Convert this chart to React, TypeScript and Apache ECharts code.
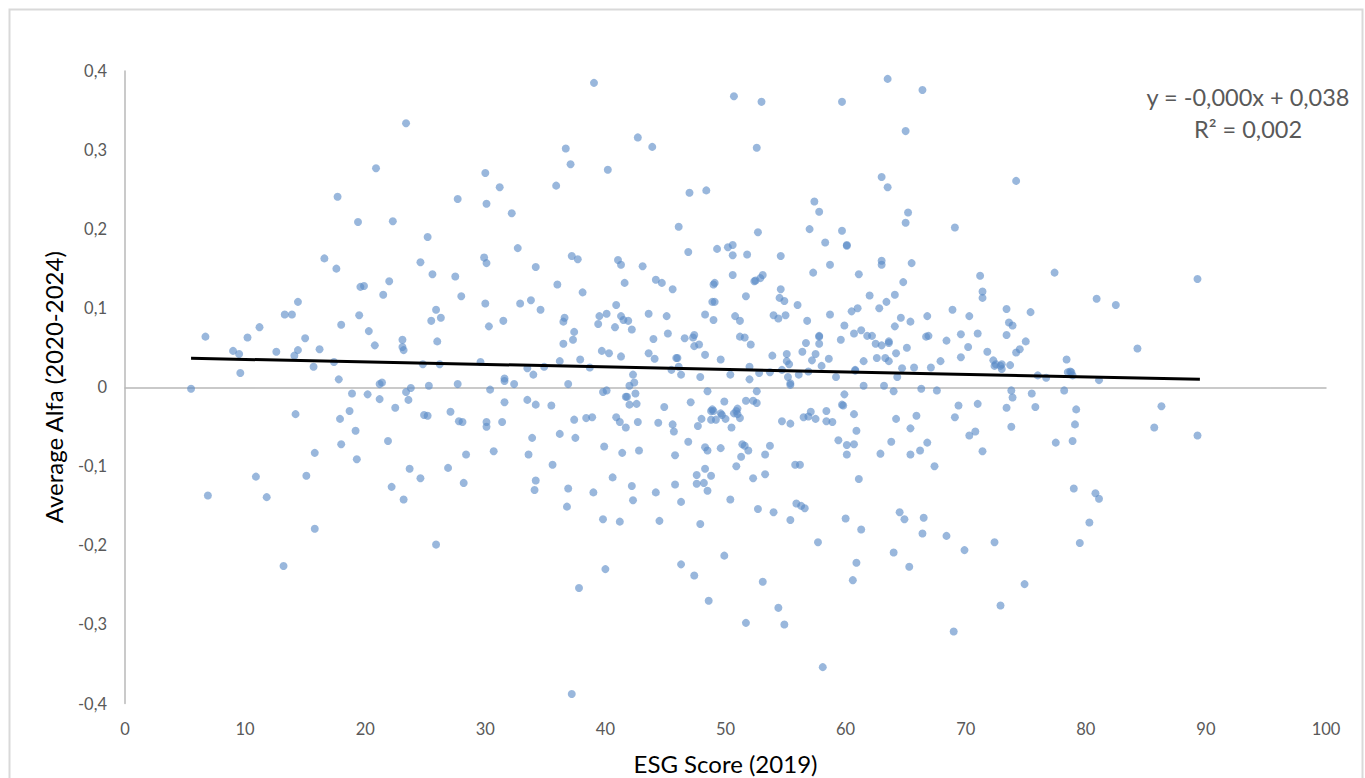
import React, { useEffect, useRef } from "react";
import * as echarts from "echarts";

const xTicksMax = 100;
const trendLine: number[][] = [[5.5, 0.0366], [89.5, 0.0102]];
const equationLines = ["y = -0,000x + 0,038", "R² = 0,002"];

const lowEsg: number[][] = [
[5.5,-0.002],[6.7,0.064],[6.9,-0.137],[9,0.046],[9.5,0.042],[9.6,0.018],[10.2,0.063],[10.9,-0.113],[11.2,0.076],[11.8,-0.139],[12.6,0.045],[13.2,-0.226],[13.3,0.092],[13.9,0.092],[14.1,0.04],[14.2,-0.034],[14.4,0.108],[14.4,0.047],[15,0.062],[15.1,-0.112],[15.7,0.026],[15.8,-0.083],[15.8,-0.179],[16.2,0.048],[16.6,0.163],[17.4,0.032],[17.6,0.15],[17.7,0.241],[17.8,0.01],[17.9,-0.04],[18,0.079],[18,-0.072],[18.7,-0.03],[18.9,-0.008],[19.2,-0.055],[19.3,-0.091],[19.4,0.209],[19.5,0.091],[19.6,0.127],[19.9,0.128],[20.2,-0.009],[20.3,0.071],[20.8,0.053],[20.9,0.277],[21.2,-0.015],[21.2,0.004],[21.4,0.006],[21.5,0.117],[21.9,-0.068],[22,0.134],[22.2,-0.126],[22.3,0.21],[22.5,-0.026],[23.1,0.06],[23.1,0.051],[23.2,0.047],[23.2,-0.142],[23.4,0.334],[23.4,-0.006],[23.6,-0.016],[23.7,-0.103],[23.8,-0.001],[24.6,0.158],[24.6,-0.115],[24.8,0.029],[24.9,-0.035],[25.2,-0.036],[25.2,0.19],[25.3,0.002],[25.5,0.084],[25.6,0.143],[25.9,-0.199],[25.9,0.098],[26,0.058],[26.2,0.029],[26.3,0.088],[26.9,-0.102],[27.1,-0.031],[27.5,0.14],[27.7,0.238],[27.7,0.004],[27.8,-0.043],[28,0.115],[28.1,-0.044],[28.2,-0.121],[28.4,-0.085],[29.6,0.032],[29.9,0.164],[30,0.106],[30,0.271],[30.1,0.232],[30.1,0.157],[30.1,-0.044],[30.1,-0.05],[30.3,0.077],[30.4,-0.003],[30.7,-0.081],[31.2,0.253],[31.5,0.084],[31.4,-0.044],[31.6,0.011],[31.6,0.008],[31.6,-0.019],[32.2,0.22],[32.4,0.004],[32.7,0.176],[32.9,0.106],[33.5,0.024],[33.5,-0.016],[33.6,-0.085],[33.8,0.11],[33.9,-0.064],[34,0.016],[34.1,-0.13],[34.2,0.152],[34.2,-0.118],[34.2,-0.022],[34.6,0.098],[34.9,0.026],[35.5,-0.023],[35.6,-0.098],[35.9,0.255],[36,0.13],[36.2,0.033],[36.2,-0.059],[36.5,0.083],[36.5,0.055],[36.6,0.088],[36.7,0.302],[36.8,-0.151],[36.9,-0.128],[36.9,0.004],[37.1,0.282],[37.2,0.166],[37.3,0.06],[37.4,0.07],[37.4,-0.041],[37.5,-0.064],[37.7,0.162],[37.2,-0.388],[37.9,0.035],[38.1,0.12],[37.8,-0.254],[38.4,-0.039],[38.7,0.025],[38.9,-0.038],[39,-0.133],[39.4,0.08],[39.5,0.09],[39.05,0.385],[39.7,0.046],[39.8,-0.006],[40.1,0.093],[40.1,-0.004],[40.3,0.043],[39.9,-0.075],[39.8,-0.167],[40,-0.23],[40.8,0.076],[40.9,0.104],[40.2,0.275]
];

const midEsg: number[][] = [
[40.6,-0.114],[40.9,-0.038],[41.2,-0.044],[41.2,-0.17],[41.3,0.039],[41.4,-0.083],[41.05,0.161],[41.3,0.155],[41.3,0.09],[41.6,0.132],[41.5,0.085],[41.7,-0.051],[41.7,-0.012],[41.8,-0.012],[41.9,0.084],[42,-0.022],[42,0.002],[42.2,0.073],[42.2,-0.125],[42.3,-0.143],[42.3,0.016],[42.4,0.006],[42.5,-0.008],[42.6,-0.021],[42.7,-0.044],[42.8,-0.08],[42.7,0.316],[43.9,0.304],[43.1,0.153],[44,0.061],[44.2,0.136],[44.7,0.132],[43.6,0.093],[43.6,0.043],[44.1,0.036],[44.2,-0.133],[44.4,-0.045],[44.5,-0.169],[44.9,-0.025],[45.1,0.09],[45.2,0.068],[45.6,0.124],[45.5,0.022],[45.6,-0.047],[45.7,-0.056],[45.8,-0.086],[45.8,-0.123],[45.9,0.037],[46,0.037],[46.1,0.026],[46.3,-0.145],[46.1,0.203],[46.3,0.016],[46.3,-0.224],[46.6,0.062],[46.9,-0.069],[46.9,0.171],[47,0.246],[47.1,-0.019],[47.3,0.063],[47.4,0.066],[47.4,0.052],[47.6,-0.111],[47.6,-0.122],[47.4,-0.238],[47.7,-0.049],[47.8,0.054],[47.9,0.013],[47.9,-0.173],[48,-0.04],[48.2,-0.121],[48.3,0.092],[48.3,0.041],[48.3,-0.076],[48.3,-0.103],[48.4,0.249],[48.5,-0.131],[48.5,-0.005],[48.5,-0.08],[48.6,-0.27],[48.8,-0.112],[48.8,-0.041],[48.8,-0.03],[48.9,0.108],[48.9,-0.028],[49,0.085],[49.1,0.108],[49,0.13],[49.1,0.132],[49,-0.03],[49.2,-0.041],[49.3,0.175],[49.6,0.035],[49.6,-0.033],[49.7,-0.035],[49.6,-0.077],[49.9,-0.018],[49.9,-0.213],[50,-0.04],[50.2,0.177],[50.4,0.016],[50.5,-0.051],[50.4,-0.142],[50.6,0.18],[50.6,0.167],[50.6,0.142],[50.7,-0.033],[50.7,0.368],[50.8,0.09],[50.9,-0.03],[50.9,-0.1],[51,-0.027],[51,-0.034],[51.2,0.084],[51.2,0.064],[51.2,-0.039],[51.3,-0.088],[51.4,-0.072],[51.6,-0.074],[51.6,0.063],[51.7,0.115],[51.7,-0.017],[51.7,-0.298],[51.8,0.168],[51.9,-0.08],[52,0.01],[52.1,0.054],[52,0.026],[52.3,-0.017],[52.3,-0.115],[52.4,0.134],[52.5,0.135],[52.6,-0.005],[52.6,-0.02],[52.6,0.303],[52.7,0.196],[52.7,-0.154],[52.8,0.018],[52.9,0.138],[53,0.361],[53.1,0.142],[53.1,-0.246],[53.3,-0.085],[53.3,-0.11],[53.7,0.019],[53.7,-0.074],[53.9,0.04],[54,0.091],[54,-0.158],[54.4,0.087],[54.4,-0.279],[54.5,0.113],[54.6,0.124],[54.6,0.166],[54.7,-0.043],[54.7,0.022],[54.9,0.109],[54.9,-0.3],[55,0.091],[55.1,0.033],[55.1,0.042],[55.2,0.013],[55.3,0.029],[55.4,0.005],[55.4,0.003],[55.4,-0.046],[55.4,-0.168],[55.8,-0.098],[55.9,-0.147],[56,0.104],[56.1,0.016],[56.2,-0.098],[56.3,-0.15],[56.4,0.045],[56.5,-0.038],[56.6,-0.153],[56.7,0.056],[56.8,0.084],[56.9,-0.037],[56.9,0.02],[57,0.2],[57.1,-0.031],[57.2,0.034],[57.3,0.145],[57.4,0.235],[57.5,0.042],[57.5,-0.04],[57.7,-0.196],[57.8,0.222],[57.8,0.065],[57.8,0.064],[57.8,0.055],[58,0.027],[58.1,-0.354],[58.3,0.183],[58.4,-0.03],[58.4,-0.043],[58.6,0.036],[58.7,0.155],[58.7,0.092],[58.9,-0.044],[59.2,0.013],[59.4,-0.067],[59.6,0.06],[59.7,0.198],[59.7,-0.022],[59.8,-0.023],[59.9,-0.009],[59.9,0.078],[59.7,0.361],[60.1,0.179],[60.1,0.18],[60.1,-0.073],[60.1,-0.085],[60.0,-0.166],[60.5,0.096],[60.7,0.068],[60.8,0.022],[60.8,0.021],[60.7,-0.072],[60.7,-0.034],[60.6,-0.244],[61,0.1],[60.9,-0.222],[60.9,-0.055],[61.1,0.143],[61.3,0.072],[61.1,-0.116],[61.5,0.033],[61.5,0.002],[61.3,-0.18],[61.8,0.065],[62.2,0.065],[62,0.116],[62.5,0.055],[62.6,0.037],[62.8,0.1],[62.9,-0.084],[63,0.053],[63,0.16],[63,0.155],[63,0.266],[63.3,0.037],[63.2,0.002],[63.6,0.033],[63.5,0.39],[63.5,0.253],[63.4,0.108],[63.6,0.058],[63.6,0.056],[63.8,-0.069],[64,-0.005],[64.1,0.117],[64.1,0.077],[64,-0.209],[64.2,0.043],[64.3,0.013],[64.2,-0.04]
];

const highEsg: number[][] = [
[64.5,-0.158],[64.6,0.088],[64.7,0.024],[64.8,0.133],[64.9,-0.167],[65,0.208],[65,0.324],[65.1,0.05],[65.4,-0.085],[65.2,0.221],[65.3,-0.227],[65.4,-0.052],[65.4,0.083],[65.7,0.025],[65.5,0.157],[66.4,0.376],[66.2,-0.08],[65.9,-0.036],[66.3,-0.002],[66.4,-0.185],[66.5,-0.165],[66.8,-0.07],[66.7,0.064],[66.9,0.065],[66.8,0.09],[67.1,0.025],[67.4,-0.1],[67.6,-0.004],[67.9,0.033],[68.4,0.059],[68.4,-0.188],[68.9,0.098],[69.1,0.202],[69,-0.309],[69.1,-0.038],[69.4,-0.023],[69.6,0.067],[69.6,0.038],[69.9,-0.206],[70.2,0.051],[70.3,0.09],[70.3,-0.061],[70.8,-0.056],[71,0.068],[71,-0.021],[71.2,0.141],[71.4,0.121],[71.4,0.113],[71.4,-0.081],[71.8,0.045],[72.4,-0.196],[72.3,0.034],[72.4,0.027],[72.5,0.029],[72.9,-0.276],[72.9,0.027],[73,0.023],[73,0.029],[73.4,-0.026],[73.4,0.066],[73.4,0.099],[73.6,0.082],[73.7,0.028],[73.8,-0.004],[73.9,-0.013],[73.8,-0.05],[73.9,0.078],[74.2,0.261],[74.2,0.044],[74.5,0.048],[74.9,-0.249],[75,0.058],[75.4,0.095],[75.5,-0.008],[75.8,-0.025],[76,0.015],[76.7,0.012],[77.4,0.145],[77.5,-0.07],[78.2,-0.004],[78.4,0.035],[78.5,0.019],[78.7,0.02],[78.8,0.019],[78.9,0.015],[78.9,-0.068],[79,-0.128],[79.1,-0.047],[79.2,-0.028],[79.5,-0.197],[80.3,-0.171],[80.8,-0.134],[80.9,0.112],[81.1,-0.141],[81.1,0.009],[82.5,0.104],[84.3,0.049],[85.7,-0.051],[86.3,-0.024],[89.3,-0.061],[89.3,0.137]
];

const allPoints = [...lowEsg, ...midEsg, ...highEsg];
const FONT = "Lato";

export default function App() {
  const ref = useRef<HTMLDivElement>(null);
  useEffect(() => {
    document.body.style.margin = "0";
    const chart = echarts.init(ref.current!, null, { renderer: "svg" });
    chart.setOption({
      animation: false,
      backgroundColor: "#fff",
      grid: { left: 125, right: 39, top: 71, bottom: 74.5, outerBoundsMode: "none" },
      xAxis: [
        {
          type: "value", min: 0, max: xTicksMax, interval: 10, position: "bottom",
          axisLine: { show: false, onZero: false }, axisTick: { show: false }, splitLine: { show: false },
          axisLabel: { color: "#595959", fontFamily: FONT, fontSize: 16.5, margin: 17 },
          name: "ESG Score (2019)", nameLocation: "middle", nameGap: 48,
          nameTextStyle: { color: "#000", fontFamily: FONT, fontSize: 24 },
        },
        {
          type: "value", min: 0, max: xTicksMax, interval: 10,
          axisLine: { show: true, onZero: true, lineStyle: { color: "#B8B8B8", width: 1.5 } },
          axisTick: { show: false }, splitLine: { show: false }, axisLabel: { show: false },
        },
      ],
      yAxis: {
        type: "value", min: -0.4, max: 0.4, interval: 0.1,
        axisLine: { show: true, onZero: false, lineStyle: { color: "#B8B8B8", width: 1.5 } },
        axisTick: { show: false }, splitLine: { show: false },
        axisLabel: {
          color: "#595959", fontFamily: FONT, fontSize: 16.5, margin: 18,
          formatter: (v: number) => (Math.abs(v) < 1e-9 ? "0" : v.toFixed(1).replace(".", ",")),
        },
        name: "Average Alfa (2020-2024)", nameLocation: "middle", nameGap: 60,
        nameTextStyle: { color: "#000", fontFamily: FONT, fontSize: 24 },
      },
      series: [
        {
          type: "scatter", xAxisIndex: 0, data: allPoints, symbolSize: 8,
          itemStyle: { color: "#5B8AC6", opacity: 0.62 },
        },
        {
          type: "line", xAxisIndex: 0, data: trendLine, showSymbol: false, symbol: "none",
          lineStyle: { color: "#000", width: 3 }, z: 5,
        },
      ],
      graphic: [
        { type: "rect", shape: { x: 9.5, y: 9.5, width: 1353, height: 790 }, style: { fill: "none", stroke: "#D9D9D9", lineWidth: 2 }, silent: true },
        { type: "text", x: 1248, y: 97, style: { text: equationLines[0], fill: "#595959", font: `23.5px ${FONT}`, textAlign: "center", textVerticalAlign: "middle" } },
        { type: "text", x: 1248, y: 129, style: { text: equationLines[1], fill: "#595959", font: `23.5px ${FONT}`, textAlign: "center", textVerticalAlign: "middle" } },
      ],
    });
    return () => chart.dispose();
  }, []);
  return <div ref={ref} style={{ position: "absolute", left: 0, top: 0, width: 1365, height: 778, overflow: "hidden" }} />;
}
